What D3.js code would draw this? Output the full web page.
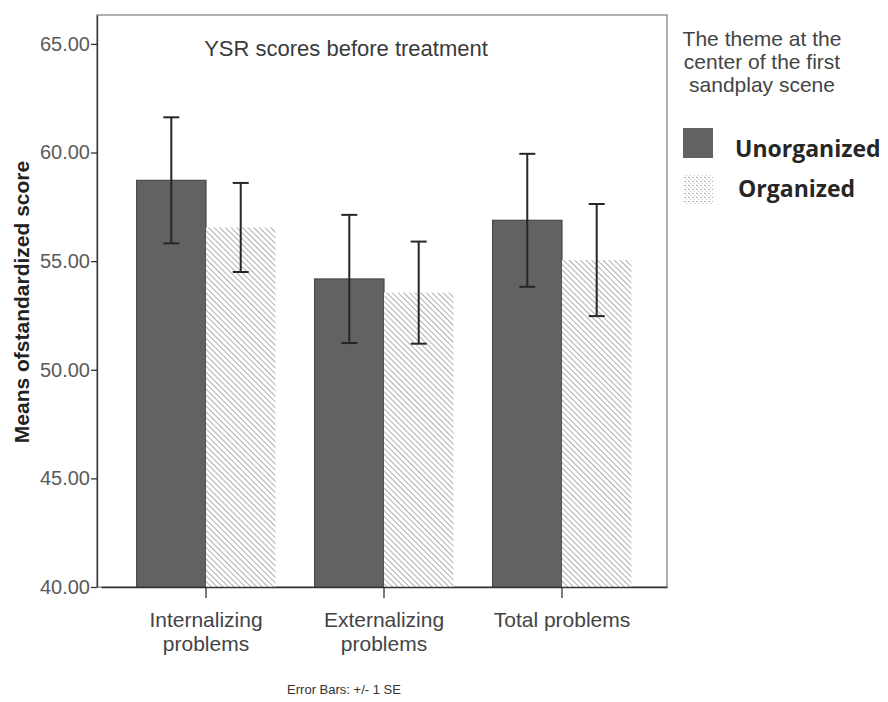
<!DOCTYPE html>
<html>
<head>
<meta charset="utf-8">
<script src="https://cdn.jsdelivr.net/npm/d3@7"></script>
<style>
  body { margin: 0; background: #fff; }
  text { font-family: "Liberation Sans", Arial, sans-serif; }
</style>
</head>
<body>
<div id="chart"></div>
<script>
// Data
var categories = ["Internalizing problems", "Externalizing problems", "Total problems"];
var categoryLines = [["Internalizing", "problems"], ["Externalizing", "problems"], ["Total problems"]];
var groups = ["Unorganized", "Organized"];
var unorganizedMeans = [58.72, 54.18, 56.88];
var unorganizedSE = [2.90, 2.95, 3.06];
var organizedMeans = [56.55, 53.55, 55.05];
var organizedSE = [2.05, 2.35, 2.58];
var yTicks = [40, 45, 50, 55, 60, 65];

var svgWidth = 888;
var svgHeight = 702;

var margin = { top: 15, right: 221, bottom: 115, left: 97 };
var width = svgWidth - margin.left - margin.right;
var height = svgHeight - margin.top - margin.bottom;

var svg = d3.select("#chart")
  .append("svg")
  .attr("width", svgWidth)
  .attr("height", svgHeight);

// hatch patterns
var defs = svg.append("defs");
var hatch = defs.append("pattern")
  .attr("id", "hatch")
  .attr("patternUnits", "userSpaceOnUse")
  .attr("width", 4)
  .attr("height", 4)
  .attr("patternTransform", "rotate(-45)");
hatch.append("rect").attr("width", 4).attr("height", 4).attr("fill", "#fff");
hatch.append("line")
  .attr("x1", 0).attr("y1", 0).attr("x2", 0).attr("y2", 4)
  .attr("stroke", "#9a9a9a").attr("stroke-width", 1.6);

var dots = defs.append("pattern")
  .attr("id", "dots")
  .attr("patternUnits", "userSpaceOnUse")
  .attr("width", 4)
  .attr("height", 4);
dots.append("rect").attr("width", 4).attr("height", 4).attr("fill", "#fff");
dots.append("rect").attr("x", 0).attr("y", 1).attr("width", 2).attr("height", 1).attr("fill", "#b0b0b0");
dots.append("rect").attr("x", 2).attr("y", 3).attr("width", 1).attr("height", 1).attr("fill", "#c4c4c4");

var chartGroup = svg.append("g")
  .attr("transform", `translate(${margin.left}, ${margin.top})`);

var x0 = d3.scaleBand()
  .domain(categories)
  .range([4, width])
  .paddingInner(0.22)
  .paddingOuter(0.2);

var x1 = d3.scaleBand()
  .domain(groups)
  .range([0, x0.bandwidth()]);

var y = d3.scaleLinear()
  .domain([40, 66.33])
  .range([height, 0]);

var seriesData = [
  { name: "Unorganized", means: unorganizedMeans, se: unorganizedSE, fill: "#626262" },
  { name: "Organized", means: organizedMeans, se: organizedSE, fill: "url(#hatch)" }
];

// frame
chartGroup.append("rect")
  .attr("width", width)
  .attr("height", height)
  .attr("fill", "none")
  .attr("stroke", "#7a7a7a")
  .attr("stroke-width", 1.2);

// bars
seriesData.forEach(function(s) {
  chartGroup.selectAll(".bar-" + s.name)
    .data(categories)
    .enter()
    .append("rect")
    .attr("x", d => x0(d) + x1(s.name))
    .attr("y", (d, i) => y(s.means[i]))
    .attr("width", x1.bandwidth())
    .attr("height", (d, i) => height - y(s.means[i]))
    .attr("fill", s.fill)
    .attr("stroke", s.name === "Unorganized" ? "#4a4a4a" : "none")
    .attr("stroke-width", 1.2);
});

// error bars
var capW = 16;
seriesData.forEach(function(s) {
  categories.forEach(function(c, i) {
    var cx = x0(c) + x1(s.name) + x1.bandwidth() / 2;
    var hi = y(s.means[i] + s.se[i]);
    var lo = y(s.means[i] - s.se[i]);
    var eg = chartGroup.append("g")
      .attr("stroke", "#262626")
      .attr("stroke-width", 2);
    eg.append("line").attr("x1", cx).attr("x2", cx).attr("y1", hi).attr("y2", lo);
    eg.append("line").attr("x1", cx - capW / 2).attr("x2", cx + capW / 2).attr("y1", hi).attr("y2", hi);
    eg.append("line").attr("x1", cx - capW / 2).attr("x2", cx + capW / 2).attr("y1", lo).attr("y2", lo);
  });
});

// y axis
var leftAxis = d3.axisLeft(y)
  .tickValues(yTicks)
  .tickSize(6)
  .tickSizeOuter(0)
  .tickPadding(1)
  .tickFormat(d3.format(".2f"));
var yAxisG = chartGroup.append("g").call(leftAxis);
yAxisG.select(".domain").attr("stroke", "#333").attr("stroke-width", 1.3);
yAxisG.selectAll(".tick line").attr("stroke", "#333").attr("stroke-width", 1.3);
yAxisG.selectAll(".tick text")
  .attr("font-size", "20px")
  .attr("fill", "#5a5a5a")
  .style("font-family", "'Liberation Sans', Arial, sans-serif");

// x axis
var bottomAxis = d3.axisBottom(x0).tickSize(11).tickSizeOuter(0).tickFormat("");
var xAxisG = chartGroup.append("g")
  .attr("transform", `translate(0, ${height})`)
  .call(bottomAxis);
xAxisG.select(".domain").attr("stroke", "#333").attr("stroke-width", 1.3);
xAxisG.selectAll(".tick line").attr("stroke", "#333").attr("stroke-width", 1.3);
xAxisG.selectAll(".tick").each(function(d, i) {
  var t = d3.select(this).append("text")
    .attr("text-anchor", "middle")
    .attr("fill", "#444")
    .attr("font-size", "21px");
  categoryLines[i].forEach(function(line, j) {
    t.append("tspan").attr("x", 0).attr("y", 40 + j * 24).text(line);
  });
});

// title inside plot
chartGroup.append("text")
  .attr("x", 249)
  .attr("y", 41)
  .attr("text-anchor", "middle")
  .attr("font-size", "22px")
  .attr("fill", "#3a3a3a")
  .text("YSR scores before treatment");

// y axis label
svg.append("text")
  .attr("transform", "rotate(-90)")
  .attr("x", -302)
  .attr("y", 29)
  .attr("text-anchor", "middle")
  .attr("font-size", "21px")
  .attr("font-weight", "bold")
  .attr("fill", "#222")
  .text("Means ofstandardized score");

// footer
svg.append("text")
  .attr("x", 344)
  .attr("y", 694)
  .attr("text-anchor", "middle")
  .attr("font-size", "13px")
  .attr("fill", "#333")
  .text("Error Bars: +/- 1 SE");

// legend
var legendTitle = ["The theme at the", "center of the first", "sandplay scene"];
var lg = svg.append("g");
lg.selectAll(".lt")
  .data(legendTitle)
  .enter()
  .append("text")
  .attr("x", 762)
  .attr("y", (d, i) => 46 + i * 23)
  .attr("text-anchor", "middle")
  .attr("font-size", "21px")
  .attr("fill", "#444")
  .text(d => d);

var legendFills = ["#626262", "url(#dots)"];
groups.forEach(function(g, i) {
  lg.append("rect")
    .attr("x", 683)
    .attr("y", 128 + i * 47)
    .attr("width", 30)
    .attr("height", 30)
    .attr("fill", legendFills[i]);
  lg.append("text")
    .attr("x", 735 + i * 3)
    .attr("y", 157 + i * 40)
    .attr("font-size", "23px")
    .attr("font-weight", "bold")
    .attr("fill", "#262626")
    .style("font-family", "'Open Sans', sans-serif")
    .text(g);
});
</script>
</body>
</html>
